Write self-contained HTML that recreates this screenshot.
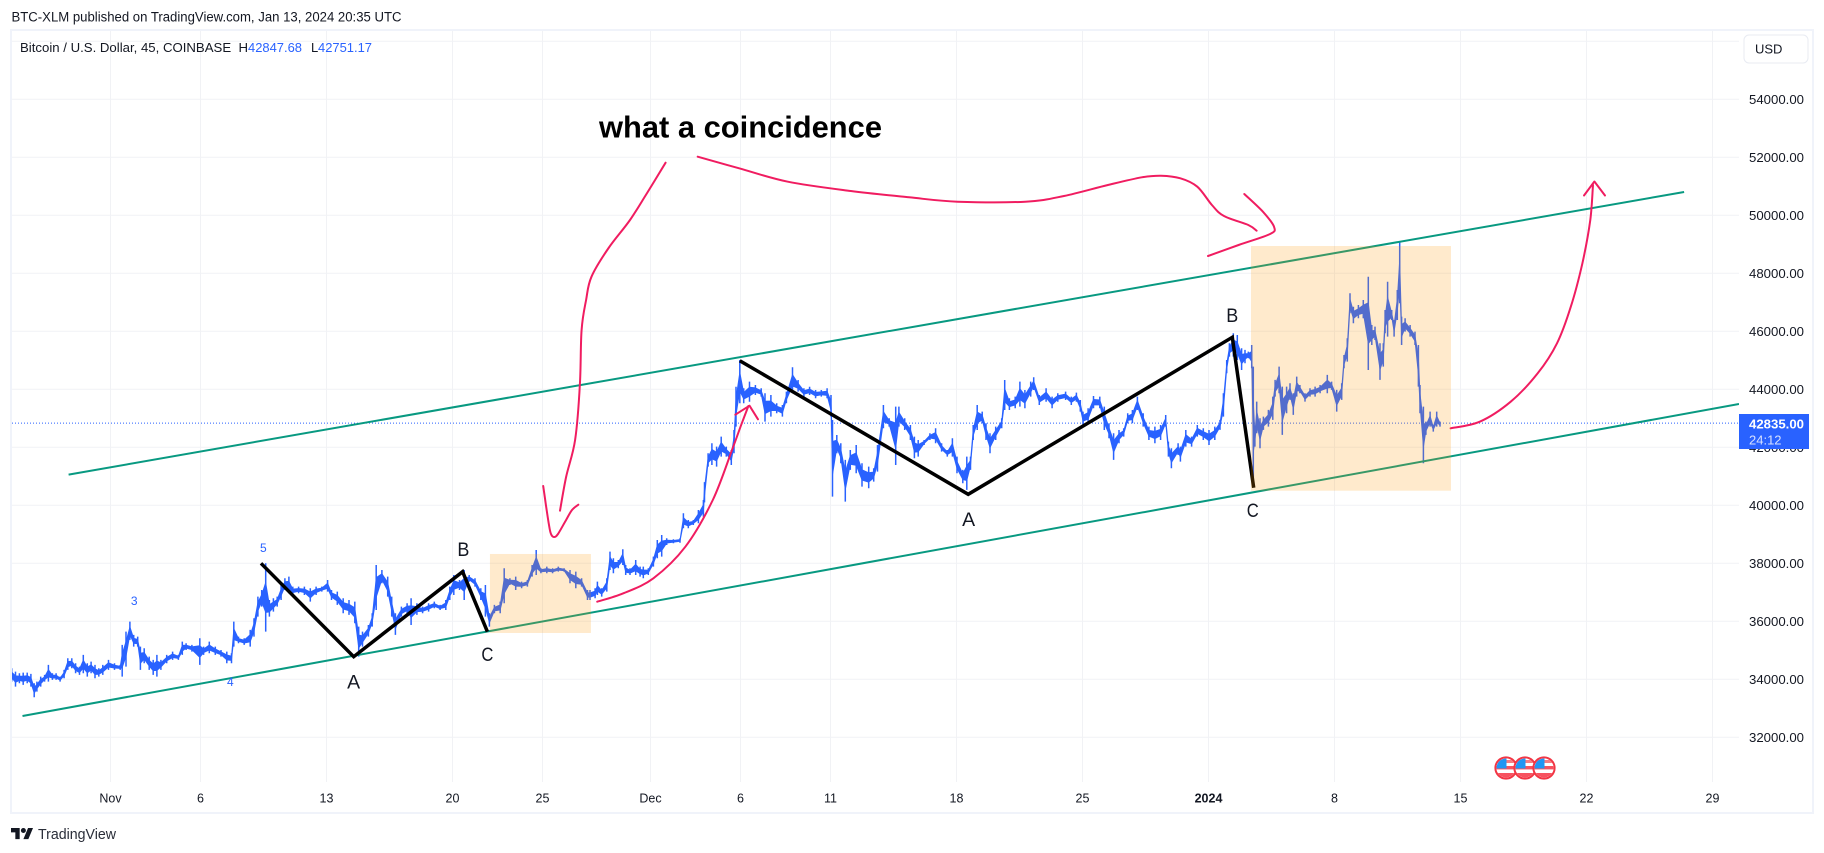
<!DOCTYPE html>
<html lang="en">
<head>
<meta charset="utf-8">
<title>BTC-XLM Bitcoin / U.S. Dollar chart</title>
<style>
html,body{margin:0;padding:0;background:#fff;width:1824px;height:853px;overflow:hidden}
svg{display:block;font-family:"Liberation Sans",sans-serif}
</style>
</head>
<body>
<svg id="chart" xmlns="http://www.w3.org/2000/svg" width="1824" height="853" viewBox="0 0 1824 853">
  <defs>
    <clipPath id="plot-clip"><rect x="12" y="31" width="1727" height="751"/></clipPath>
    <clipPath id="flag-clip"><circle cx="0" cy="0" r="9.5"/></clipPath>
    <g id="flag-icon">
      <circle cx="0" cy="0" r="10.6" fill="#fff" stroke="#f23645" stroke-width="2"/>
      <g clip-path="url(#flag-clip)">
        <rect x="-10" y="-8" width="20" height="3" fill="#f77c80"/>
        <rect x="-10" y="-2" width="20" height="3.4" fill="#f7525f"/>
        <rect x="-10" y="5" width="20" height="5" fill="#f7525f"/>
        <rect x="-10" y="-10" width="10.5" height="10.5" fill="#2196f3"/>
      </g>
    </g>
  </defs>
  <rect x="0" y="0" width="1824" height="853" fill="#fff"/>
  <text x="11.5" y="21.5" font-size="13.5" fill="#131722" textLength="390" lengthAdjust="spacingAndGlyphs">BTC-XLM published on TradingView.com, Jan 13, 2024 20:35 UTC</text>
  <rect x="11" y="30" width="1802" height="783" fill="none" stroke="#f0f3fa" stroke-width="2"/>

  <g id="grid"></g>
  <g id="series-layer" clip-path="url(#plot-clip)"></g>
  <g id="drawings" clip-path="url(#plot-clip)"></g>

  <g font-size="19.5" fill="#131722" text-anchor="middle">
    <text x="353.6" y="688.5" textLength="13" lengthAdjust="spacingAndGlyphs">A</text>
    <text x="463.4" y="556" textLength="12" lengthAdjust="spacingAndGlyphs">B</text>
    <text x="487.4" y="661" textLength="12" lengthAdjust="spacingAndGlyphs">C</text>
    <text x="968.6" y="526" textLength="13" lengthAdjust="spacingAndGlyphs">A</text>
    <text x="1232.3" y="322" textLength="12" lengthAdjust="spacingAndGlyphs">B</text>
    <text x="1252.8" y="517" textLength="12" lengthAdjust="spacingAndGlyphs">C</text>
  </g>
  <g font-size="12" fill="#2962ff" text-anchor="middle">
    <text x="134.2" y="605">3</text>
    <text x="230.3" y="686">4</text>
    <text x="263.3" y="552">5</text>
  </g>
  <text x="599" y="137.5" font-size="31" font-weight="700" fill="#000" textLength="283" lengthAdjust="spacingAndGlyphs">what a coincidence</text>

  <g>
    <text x="20" y="52" font-size="13" fill="#131722" textLength="228" lengthAdjust="spacingAndGlyphs" xml:space="preserve">Bitcoin / U.S. Dollar, 45, COINBASE  H</text>
    <text x="248" y="52" font-size="13" fill="#2962ff" textLength="54" lengthAdjust="spacingAndGlyphs">42847.68</text>
    <text x="311" y="52" font-size="13" fill="#131722">L</text>
    <text x="318" y="52" font-size="13" fill="#2962ff" textLength="54" lengthAdjust="spacingAndGlyphs">42751.17</text>
  </g>

  <g id="axes"></g>

  <g>
    <rect x="1739" y="414" width="70" height="35" fill="#2962ff"/>
    <text x="1749" y="428.5" font-size="13" font-weight="700" fill="#fff" textLength="55" lengthAdjust="spacingAndGlyphs">42835.00</text>
    <text x="1749" y="444.5" font-size="13" fill="#d6e0ff">24:12</text>
  </g>

  <g>
    <rect x="1744" y="35" width="64" height="28" rx="5" fill="#fff" stroke="#e8ebf2" stroke-width="1"/>
    <text x="1755" y="53.5" font-size="13" fill="#131722">USD</text>
  </g>

  <g>
    <use href="#flag-icon" transform="translate(1506 768)"/>
    <use href="#flag-icon" transform="translate(1525 768)"/>
    <use href="#flag-icon" transform="translate(1544 768)"/>
  </g>

  <g>
    <g transform="translate(11 825.5) scale(0.62)" fill="#131722">
      <path d="M14 22H7V11H0V4h14v18zM28 22h-8l7.5-18h8L28 22z"/>
      <circle cx="20" cy="8" r="4"/>
    </g>
    <text x="38" y="839" font-size="14.5" fill="#2a2e39" textLength="78" lengthAdjust="spacingAndGlyphs">TradingView</text>
  </g>
</svg>

<script>
/* ---------- axis data ---------- */
const priceTicks = [56000,54000,52000,50000,48000,46000,44000,42000,40000,38000,36000,34000,32000];
const priceTickLabels = ["","54000.00","52000.00","50000.00","48000.00","46000.00","44000.00","42000.00","40000.00","38000.00","36000.00","34000.00","32000.00"];
const timeTickDays = [0,5,12,19,24,30,35,40,47,54,61,68,75,82,89];
const timeTickLabels = ["Nov","6","13","20","25","Dec","6","11","18","25","2024","8","15","22","29"];
const lastPrice = 42835;

/* ---------- price series: days since Nov 1, high, low ---------- */
const days = [
-5.49,-5.28,-5.06,-4.85,-4.63,-4.42,-4.24,-4.09,-3.88,-3.66,
-3.45,-3.23,-3.02,-2.80,-2.58,-2.37,-2.15,-1.94,-1.72,-1.51,
-1.29,-1.08,-0.86,-0.65,-0.43,-0.11,0.22,0.54,0.65,0.86,
1.08,1.29,1.51,1.66,1.87,2.15,2.37,2.58,2.80,3.12,
3.45,3.77,3.99,4.20,4.52,4.96,5.17,5.49,5.82,6.14,
6.46,6.72,6.85,7.11,7.43,7.76,7.97,8.19,8.40,8.62,
8.83,9.05,9.26,9.48,9.69,9.91,10.13,10.45,10.77,11.10,
11.42,11.74,12.06,12.28,12.60,12.93,13.25,13.57,13.79,14.00,
14.33,14.54,14.76,15.08,15.40,15.62,15.83,16.16,16.48,16.70,
17.02,17.34,17.67,17.99,18.31,18.63,18.85,19.07,19.39,19.65,
19.93,20.25,20.57,20.83,21.05,21.33,21.65,21.87,22.19,22.51,
22.84,23.16,23.42,23.65,23.91,24.24,24.56,24.88,25.20,25.53,
25.85,26.17,26.50,26.64,26.92,27.05,27.29,27.57,27.75,27.94,
28.21,28.46,28.62,28.86,29.18,29.42,29.60,29.88,30.16,30.38,
30.62,30.90,31.27,31.64,31.83,32.10,32.38,32.66,32.94,33.00,
33.20,33.41,33.67,33.93,34.21,34.49,34.64,34.75,34.96,35.18,
35.50,35.83,36.15,36.36,36.69,37.01,37.33,37.55,37.89,38.20,
38.52,38.84,39.17,39.49,39.81,40.03,40.11,40.35,40.57,40.82,
41.10,41.43,41.75,42.12,42.40,42.61,42.94,43.26,43.62,43.80,
44.12,44.44,44.66,44.87,45.20,45.52,45.84,46.17,46.49,46.77,
47.03,47.35,47.57,47.78,47.93,48.15,48.43,48.64,48.86,49.18,
49.51,49.68,49.94,50.26,50.52,50.80,51.12,51.29,51.60,51.98,
52.31,52.63,53.06,53.38,53.66,53.88,54.03,54.31,54.61,54.96,
55.21,55.47,55.73,56.03,56.29,56.51,56.77,57.05,57.37,57.69,
58.02,58.34,58.62,58.77,58.94,59.31,59.44,59.74,60.06,60.38,
60.71,61.03,61.35,61.64,61.83,62.01,62.16,62.38,62.60,62.84,
63.03,63.21,63.40,63.49,63.58,63.68,63.86,64.05,64.33,64.57,
64.70,64.92,65.10,65.34,65.53,65.71,65.90,66.08,66.36,66.64,
66.92,67.20,67.60,67.84,68.12,68.40,68.53,68.71,68.86,69.05,
69.33,69.60,69.88,70.07,70.25,70.53,70.71,70.81,70.95,71.18,
71.31,71.49,71.62,71.73,71.92,72.20,72.47,72.66,72.75,72.94,
73.08,73.31,73.49,73.68,73.86
];
const highs = [
34380,34266,34208,34231,34231,34185,33863,33921,34093,34151,
34495,34208,34208,34093,34323,34725,34725,34553,34438,34840,
34553,34610,34495,34380,34495,34668,34553,34495,35185,35644,
35989,35530,35472,35127,35070,34783,34668,34840,34668,34840,
34955,34840,35300,35242,35185,35415,35127,35300,35127,35012,
34955,34898,35989,35472,35415,35702,36104,36851,37081,38000,
36736,36793,36851,37253,37483,37540,37196,37196,37196,37138,
37196,37196,37425,37081,37023,36793,36736,36679,35817,35644,
35874,36276,37942,37770,37540,36851,36276,36506,36621,36793,
36621,36506,36621,36679,36564,36736,37196,37598,37425,37770,
37598,37483,37138,37253,36276,36564,36679,37828,37483,37540,
37368,37425,37942,38460,37828,37885,37828,37885,37828,37770,
37713,37483,37081,37081,37138,37368,37138,37483,38402,38172,
38115,38482,37942,37828,38115,37885,37885,37828,38230,38804,
38977,38862,38827,38862,39723,39494,39494,39838,40183,40800,
41793,42138,42023,42368,42023,41908,42598,44091,45011,44034,
44264,44149,44034,43862,43804,43517,43460,43919,44758,44321,
44034,44091,43977,43977,44034,43804,42942,42425,42138,41564,
41908,42081,41449,41334,41276,42081,43460,43000,43402,43402,
43000,42770,42368,42253,42253,42483,42655,42138,41908,42310,
41679,41219,41679,41679,42770,43460,43230,42828,42483,42713,
43000,44321,43689,43747,44264,43977,44264,44413,43804,44034,
43747,43862,43919,43747,43885,43632,43230,43345,43770,43747,
43402,42828,42483,42598,42655,43172,43287,43747,43172,42713,
42713,42770,43115,42196,41966,42138,42023,42598,42368,42770,
42655,42598,42713,42944,43863,45012,45586,45931,45874,45414,
45357,45299,45529,44782,42714,43576,43001,43059,43288,43748,
44323,44782,44093,44093,44208,43863,44437,44150,43863,44035,
44093,44150,44495,44265,43978,44208,45184,45759,47310,46850,
46908,47080,47884,46218,46161,45586,45586,46735,47712,46735,
46391,47425,49091,46506,46448,46218,45988,45529,44150,43403,
42886,43231,42772,43231,42886
];
const lows = [
33920,33749,33863,33806,33863,33749,33381,33576,33749,33921,
33921,33978,33978,33921,34036,34323,34380,34208,34151,34208,
34093,34208,34036,34093,34151,34323,34323,34323,34093,34438,
35357,35127,35127,34323,34553,34323,34151,34093,34323,34553,
34668,34668,34840,35012,34955,34495,34840,34898,34840,34783,
34553,34553,35127,35242,35185,35127,35472,36161,36506,35644,
36161,36334,36506,36736,37081,36966,36908,36966,36908,36679,
36908,37023,37023,36736,36564,36276,36219,35932,34783,35127,
35472,35817,36391,37310,36851,36161,35530,36161,36276,35874,
36219,36276,36334,36449,36391,36391,36736,36908,37081,36736,
37368,37196,36736,36161,35817,36276,36276,36621,37253,37081,
37138,37196,37540,37598,37655,37655,37655,37713,37713,37310,
37138,37196,36736,36736,36793,36908,36851,37023,37770,37655,
37828,37942,37598,37598,37598,37540,37483,37598,37885,38172,
38230,38632,38689,38712,39206,39206,39321,39379,39608,40100,
41334,41391,41334,41679,41679,41391,41793,42713,43517,43517,
43574,43804,43747,42885,43057,43172,43057,43517,43862,43919,
43747,43804,43689,43747,43689,43057,40300,41793,41449,40127,
41219,41104,40644,40587,40817,41161,42655,42713,41391,42713,
42598,42253,41621,41679,42081,42253,42138,41851,41679,41679,
41104,40759,40530,41219,42253,42598,42828,42253,41793,42253,
42655,43287,43287,43345,43402,43345,43747,43977,43460,43574,
43345,43574,43632,43460,43574,43230,42770,42828,43345,43345,
42598,42310,41564,42138,42368,42828,42828,43287,42713,42253,
42138,42253,42713,41679,41276,41736,41506,42023,42023,42368,
42253,42081,42253,42599,43059,44552,45127,45127,45012,44667,
44897,45069,44725,40646,42025,42484,41967,42599,42714,42944,
43748,43863,42427,43174,43633,43116,43748,43863,43576,43748,
43748,43863,43863,43978,43231,43633,44725,44954,46621,46276,
46448,46448,44667,45529,45701,44323,44782,45931,45816,46391,
45816,46391,46965,45529,45988,45816,45529,44093,43174,41450,
42427,42714,42542,42714,42714
];

/* ---------- drawing tools in (day, price) ---------- */
const lowerChannelDays = [-4.89,90.47];
const lowerChannelPrices = [32736,43493];
const upperChannelDays = [-2.33,87.42];
const upperChannelPrices = [41059,50803];
const waveLeftDays = [8.36,13.51,19.56,20.94];
const waveLeftPrices = [38001,34780,37711,35643];
const waveRightDays = [34.96,47.65,62.32,63.51];
const waveRightPrices = [44986,40380,45793,40608];
const zoneLeftDays = [21.08,26.69];
const zoneLeftPrices = [38321,35597];
const zoneRightDays = [63.36,74.47];
const zoneRightPrices = [48941,40504];

const squiggleDownDays = [30.84,29.81,28.86,27.67,26.72,26.42,26.17,26.08,25.81,25.31,24.97];
const squiggleDownPrices = [51813,50769,49838,48872,47883,47079,46045,44183,42252,40976,39815];
const squiggleTickDays = [24.04,24.19,24.36,24.47,24.64,24.86,25.31,25.64,25.99];
const squiggleTickPrices = [40666,40011,39321,39011,38908,39011,39494,39839,40021];
const topCurveDays = [32.62,34.93,37.63,41.13,44.36,47.06,50.82,52.97,55.41,57.29,58.36,59.44,60.38,61.19,61.86,63.21,63.67];
const topCurvePrices = [52020,51620,51158,50838,50620,50469,50469,50665,51045,51310,51365,51276,50986,50355,49976,49665,49469];
const topHookDays = [62.99,64.02,64.64,64.42,62.67,60.97];
const topHookPrices = [50734,50124,49607,49355,48976,48597];
const riseCurveDays = [27.04,28.49,30.16,31.94,33.46,34.53,35.07,35.44];
const riseCurvePrices = [36677,36966,37483,38573,40183,41907,42828,43424];
const riseHeadDays = [34.71,35.5,35.97];
const riseHeadPrices = [43124,43435,42966];
const forecastDays = [74.45,76.07,77.79,79.29,80.36,81.13,81.77,82.21,82.36];
const forecastPrices = [42656,42883,43573,44552,45586,46848,48345,49838,51045];
const forecastHeadDays = [81.86,82.44,83.03];
const forecastHeadPrices = [50683,51165,50683];

/* ---------- axis functions ---------- */
function xScale(day){ return 110.5 + 18 * day; }
function yScale(price){ return 273.3 + (48000 - price) * 0.029; }

const NS = 'http://www.w3.org/2000/svg';
function make(tag, attrs, parent){
  const el = document.createElementNS(NS, tag);
  for (const k in attrs) el.setAttribute(k, attrs[k]);
  parent.appendChild(el);
  return el;
}
function straightPath(ds, ps){
  return ds.map((d,i)=>(i?'L':'M')+xScale(d).toFixed(1)+' '+yScale(ps[i]).toFixed(1)).join('');
}
function smoothPath(ds, ps){
  const pts = ds.map((d,i)=>[xScale(d), yScale(ps[i])]);
  let s = 'M'+pts[0][0].toFixed(1)+' '+pts[0][1].toFixed(1);
  for (let i=0;i<pts.length-1;i++){
    const p0=pts[Math.max(i-1,0)], p1=pts[i], p2=pts[i+1], p3=pts[Math.min(i+2,pts.length-1)];
    const c1x=p1[0]+(p2[0]-p0[0])/6, c1y=p1[1]+(p2[1]-p0[1])/6;
    const c2x=p2[0]-(p3[0]-p1[0])/6, c2y=p2[1]-(p3[1]-p1[1])/6;
    s+='C'+c1x.toFixed(1)+' '+c1y.toFixed(1)+' '+c2x.toFixed(1)+' '+c2y.toFixed(1)+' '+p2[0].toFixed(1)+' '+p2[1].toFixed(1);
  }
  return s;
}

const gridLayer = document.getElementById('grid');
const axesLayer = document.getElementById('axes');
const seriesLayer = document.getElementById('series-layer');
const drawingsLayer = document.getElementById('drawings');

/* grid + axis labels */
priceTicks.forEach((p,i)=>{
  const y = yScale(p);
  const line = make('line',{x1:12,x2:1739,y1:y,y2:y,stroke:'#f1f2f5','stroke-width':1},gridLayer);
  
  
  if (priceTickLabels[i]){
    const t = make('text',{x:1749,y:y+4.5,'font-size':13,fill:'#131722',textLength:55,lengthAdjust:'spacingAndGlyphs'},axesLayer);
    
    
    t.textContent = priceTickLabels[i];
  }
});
timeTickDays.forEach((d,i)=>{
  const x = xScale(d);
  const line = make('line',{x1:x,x2:x,y1:31,y2:782,stroke:'#f1f2f5','stroke-width':1},gridLayer);
  
  
  const label = timeTickLabels[i];
  const t = make('text',{x:x,y:802.5,'font-size':12.5,fill:'#131722','text-anchor':'middle','font-weight':label==='2024'?'700':'400'},axesLayer);
  
  
  t.textContent = label;
});

/* price series: high-low wicks plus a solid body band through the middle of each range */
let wicksD = '';
days.forEach((day,i)=>{
  const x = xScale(day).toFixed(1);
  wicksD += 'M'+x+' '+yScale(highs[i]).toFixed(1)+'L'+x+' '+yScale(lows[i]).toFixed(1);
});
const wicksPath = make('path',{d:wicksD,fill:'none',stroke:'#2962ff','stroke-width':1.5},seriesLayer);



const upperEdge = days.map((day,i)=>xScale(day).toFixed(1)+','+yScale(lows[i]+(highs[i]-lows[i])*0.72).toFixed(1));
const lowerEdge = days.map((day,i)=>xScale(day).toFixed(1)+','+yScale(lows[i]+(highs[i]-lows[i])*0.28).toFixed(1)).reverse();
const bodyBand = make('polygon',{points:upperEdge.concat(lowerEdge).join(' '),fill:'#2962ff',stroke:'#2962ff','stroke-width':0.8,'stroke-linejoin':'round'},seriesLayer);



const lastLine = make('line',{x1:12,x2:1739,y1:yScale(lastPrice),y2:yScale(lastPrice),stroke:'#2962ff','stroke-width':1,'stroke-dasharray':'1 2'},seriesLayer);



/* channel lines */
const lowerChannel = make('path',{d:straightPath(lowerChannelDays,lowerChannelPrices),fill:'none',stroke:'#089981','stroke-width':2},drawingsLayer);


const upperChannel = make('path',{d:straightPath(upperChannelDays,upperChannelPrices),fill:'none',stroke:'#089981','stroke-width':2},drawingsLayer);



/* ABC waves */
const waveLeft = make('path',{d:straightPath(waveLeftDays,waveLeftPrices),fill:'none',stroke:'#000','stroke-width':3.5,'stroke-linejoin':'miter'},drawingsLayer);


const waveRight = make('path',{d:straightPath(waveRightDays,waveRightPrices),fill:'none',stroke:'#000','stroke-width':3.5,'stroke-linejoin':'miter'},drawingsLayer);



/* pink freehand */
const pink = '#f01c60';
const pen = {fill:'none',stroke:pink,'stroke-width':2,'stroke-linecap':'round','stroke-linejoin':'round'};
const squiggleDown = make('path',Object.assign({d:smoothPath(squiggleDownDays,squiggleDownPrices)},pen),drawingsLayer);


const squiggleTick = make('path',Object.assign({d:smoothPath(squiggleTickDays,squiggleTickPrices)},pen),drawingsLayer);


const topCurve = make('path',Object.assign({d:smoothPath(topCurveDays,topCurvePrices)},pen),drawingsLayer);


const topHook = make('path',Object.assign({d:smoothPath(topHookDays,topHookPrices)},pen),drawingsLayer);


const riseCurve = make('path',Object.assign({d:smoothPath(riseCurveDays,riseCurvePrices)},pen),drawingsLayer);


const riseHead = make('path',Object.assign({d:straightPath(riseHeadDays,riseHeadPrices)},pen),drawingsLayer);


const forecastCurve = make('path',Object.assign({d:smoothPath(forecastDays,forecastPrices)},pen),drawingsLayer);


const forecastHead = make('path',Object.assign({d:straightPath(forecastHeadDays,forecastHeadPrices)},pen),drawingsLayer);



/* highlight zones on top */
function zoneAttrs(ds, ps){
  const x0 = xScale(ds[0]), x1 = xScale(ds[1]), y0 = yScale(ps[0]), y1 = yScale(ps[1]);
  return {x:x0,y:y0,width:x1-x0,height:y1-y0,fill:'rgba(255,152,0,0.2)'};
}
const zoneLeft = make('rect',zoneAttrs(zoneLeftDays,zoneLeftPrices),drawingsLayer);


const zoneRight = make('rect',zoneAttrs(zoneRightDays,zoneRightPrices),drawingsLayer);


</script>
</body>
</html>
